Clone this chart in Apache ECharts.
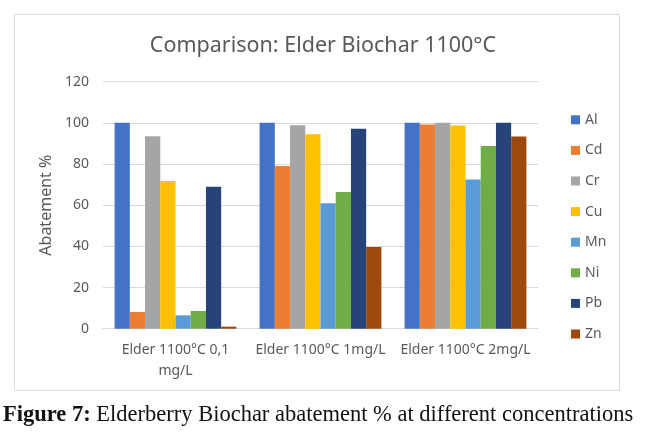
<!DOCTYPE html>
<html>
<head>
<meta charset="utf-8">
<script src="https://cdn.jsdelivr.net/npm/echarts@6/dist/echarts.min.js"></script>
<style>
html,body{margin:0;padding:0;background:#fff;}
#c{width:648px;height:447px;}
</style>
</head>
<body>
<div id="c"></div>
<script>
var categories = ['Elder 1100°C 0,1 mg/L', 'Elder 1100°C 1mg/L', 'Elder 1100°C 2mg/L'];
var seriesNames = ['Al', 'Cd', 'Cr', 'Cu', 'Mn', 'Ni', 'Pb', 'Zn'];
var Al = [100, 100, 100];
var Cd = [8.1, 79.1, 99.2];
var Cr = [93.5, 98.9, 100];
var Cu = [71.8, 94.5, 98.7];
var Mn = [6.5, 60.9, 72.5];
var Ni = [8.6, 66.4, 88.8];
var Pb = [69, 97.1, 100];
var Zn = [1, 39.7, 93.4];
var yTicks = [0, 20, 40, 60, 80, 100, 120];
var colors = ['#4472C4', '#ED7D31', '#A5A5A5', '#FFC000', '#5B9BD5', '#70AD47', '#264478', '#9E480E'];
var values = [Al, Cd, Cr, Cu, Mn, Ni, Pb, Zn];

var chart = echarts.init(document.getElementById('c'), null, {renderer: 'canvas'});
var txt = '#595959';
var font = 'Noto Sans';
var series = seriesNames.map(function (n, i) {
  return {
    name: n, type: 'bar', data: values[i],
    barGap: '0%', barCategoryGap: '16%',
    itemStyle: {color: colors[i]}
  };
});
chart.setOption({
  animation: false,
  color: colors,
  title: {
    text: 'Comparison: Elder Biochar 1100°C',
    left: 318, top: 30, textAlign: 'center',
    textStyle: {color: txt, fontSize: 21.5, fontWeight: 'normal', fontFamily: font}
  },
  legend: {
    orient: 'vertical', left: 566, top: 107,
    itemWidth: 9, itemHeight: 9, itemGap: 15, itemTextGap: 5,
    icon: 'rect',
    textStyle: {color: txt, fontSize: 14, fontFamily: font, lineHeight: 15.6},
    data: seriesNames
  },
  grid: {left: 103, right: 110, top: 81.7, bottom: 118.3, containLabel: false},
  xAxis: {
    type: 'category', data: categories,
    axisLine: {lineStyle: {color: '#d9d9d9'}},
    axisTick: {show: false},
    axisLabel: {
      interval: 0,
      color: txt, fontSize: 14, fontFamily: font, lineHeight: 21, margin: 11,
      formatter: function (v) { return v.replace('0,1 mg/L', '0,1\nmg/L'); }
    }
  },
  yAxis: {
    type: 'value', min: yTicks[0], max: yTicks[yTicks.length - 1], interval: 20,
    name: 'Abatement %', nameLocation: 'middle', nameGap: 48,
    nameTextStyle: {color: txt, fontSize: 16, fontFamily: font},
    axisLine: {show: false}, axisTick: {show: false},
    axisLabel: {color: txt, fontSize: 14, fontFamily: font, margin: 14},
    splitLine: {lineStyle: {color: '#d9d9d9'}}
  },
  graphic: [
    {type: 'rect', shape: {x: 14.5, y: 14.5, width: 605, height: 376},
     style: {fill: 'none', stroke: '#d9d9d9', lineWidth: 1}, z: -1},
    {type: 'text', left: 3, top: 404,
     style: {
       text: '{b|Figure 7:} Elderberry Biochar abatement % at different concentrations',
       fill: '#111', font: '22.5px "Liberation Serif"',
       rich: {b: {fontWeight: 'bold', fontSize: 22.5, fontFamily: 'Liberation Serif', fill: '#111'}}
     }}
  ],
  series: series
});
</script>
</body>
</html>
